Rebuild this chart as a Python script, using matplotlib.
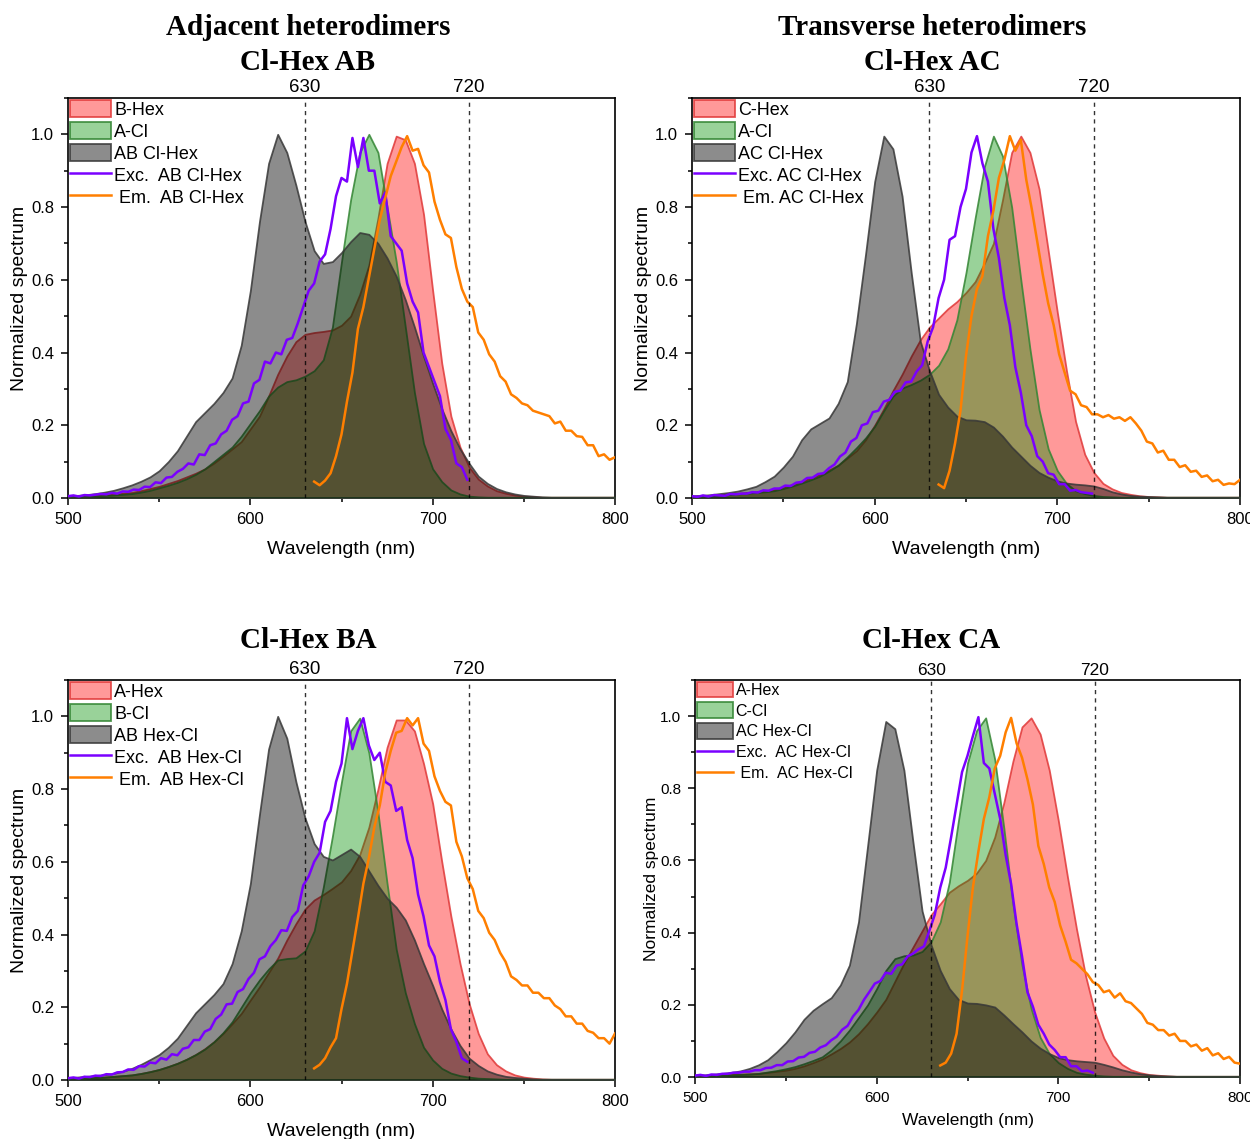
import numpy as np
import matplotlib

matplotlib.use("Agg")
import matplotlib.pyplot as plt
from matplotlib.ticker import MultipleLocator

plt.rcParams["font.family"] = ["Liberation Sans", "DejaVu Sans"]

# sample grids (nm)
WL_FILL = np.arange(500, 801, 5)   # 61 points, smooth absorption-type spectra
WL_EXC = np.arange(500, 720, 3)    # 74 points, excitation scans
WL_EM = np.arange(635, 801, 3)     # 56 points, emission scans
MARKERS_NM = [630, 720]

# ---- Cl-Hex AB ------------------------------------------------------------
ab_clhex_red = [
    0.004, 0.005, 0.006, 0.007, 0.009, 0.011, 0.013, 0.015, 0.020, 0.026,
    0.032, 0.040, 0.048, 0.058, 0.068, 0.080, 0.096, 0.115, 0.135, 0.155,
    0.190, 0.225, 0.280, 0.340, 0.390, 0.430, 0.450, 0.455, 0.458, 0.462,
    0.475, 0.500, 0.560, 0.640, 0.770, 0.920, 0.995, 0.985, 0.920, 0.780,
    0.570, 0.370, 0.225, 0.140, 0.085, 0.052, 0.033, 0.020, 0.013, 0.008,
    0.005, 0.004, 0.002, 0.002, 0.002, 0.002, 0.002, 0.002, 0.002, 0.002,
    0.002,
]
ab_clhex_green = [
    0.003, 0.004, 0.005, 0.006, 0.007, 0.008, 0.010, 0.012, 0.016, 0.021,
    0.028, 0.035, 0.043, 0.053, 0.065, 0.080, 0.100, 0.120, 0.140, 0.170,
    0.205, 0.240, 0.280, 0.305, 0.320, 0.325, 0.335, 0.350, 0.380, 0.470,
    0.650, 0.820, 0.950, 1.000, 0.950, 0.800, 0.650, 0.470, 0.290, 0.150,
    0.080, 0.045, 0.022, 0.011, 0.005, 0.003, 0.002, 0.002, 0.002, 0.002,
    0.002, 0.002, 0.002, 0.002, 0.002, 0.002, 0.002, 0.002, 0.002, 0.002,
    0.002,
]
ab_clhex_gray = [
    0.005, 0.007, 0.009, 0.012, 0.016, 0.021, 0.028, 0.036, 0.046, 0.058,
    0.075, 0.100, 0.130, 0.170, 0.210, 0.235, 0.260, 0.290, 0.330, 0.420,
    0.570, 0.760, 0.920, 1.000, 0.950, 0.860, 0.760, 0.680, 0.645, 0.650,
    0.675, 0.705, 0.730, 0.725, 0.700, 0.660, 0.610, 0.545, 0.470, 0.390,
    0.315, 0.245, 0.185, 0.135, 0.095, 0.060, 0.040, 0.026, 0.017, 0.011,
    0.007, 0.005, 0.003, 0.002, 0.002, 0.002, 0.002, 0.002, 0.002, 0.002,
    0.002,
]
ab_clhex_exc = [
    0.005, 0.007, 0.004, 0.008, 0.007, 0.009, 0.011, 0.010, 0.014, 0.012,
    0.018, 0.017, 0.023, 0.022, 0.031, 0.030, 0.043, 0.041, 0.056, 0.058,
    0.072, 0.080, 0.095, 0.092, 0.120, 0.118, 0.145, 0.150, 0.175, 0.185,
    0.215, 0.225, 0.260, 0.265, 0.315, 0.325, 0.375, 0.370, 0.400, 0.395,
    0.435, 0.440, 0.480, 0.525, 0.570, 0.590, 0.650, 0.670, 0.740, 0.830,
    0.880, 0.870, 0.990, 0.910, 0.990, 0.900, 0.900, 0.810, 0.840, 0.720,
    0.700, 0.680, 0.590, 0.540, 0.510, 0.400, 0.360, 0.320, 0.280, 0.190,
    0.160, 0.095, 0.085, 0.050,
]
ab_clhex_em = [
    0.045, 0.035, 0.048, 0.068, 0.115, 0.175, 0.265, 0.345, 0.465, 0.525,
    0.605, 0.685, 0.765, 0.825, 0.885, 0.925, 0.965, 0.995, 0.955, 0.960,
    0.915, 0.895, 0.815, 0.765, 0.725, 0.715, 0.635, 0.575, 0.540, 0.525,
    0.455, 0.435, 0.395, 0.375, 0.335, 0.320, 0.285, 0.275, 0.260, 0.255,
    0.240, 0.235, 0.230, 0.225, 0.205, 0.210, 0.185, 0.185, 0.170, 0.168,
    0.145, 0.145, 0.115, 0.120, 0.105, 0.112,
]

# ---- Cl-Hex AC ------------------------------------------------------------
ac_clhex_red = [
    0.005, 0.006, 0.007, 0.009, 0.011, 0.013, 0.015, 0.017, 0.020, 0.023,
    0.030, 0.037, 0.045, 0.055, 0.065, 0.077, 0.090, 0.110, 0.130, 0.160,
    0.200, 0.245, 0.295, 0.340, 0.390, 0.435, 0.470, 0.495, 0.520, 0.540,
    0.565, 0.595, 0.645, 0.700, 0.820, 0.950, 0.995, 0.950, 0.850, 0.680,
    0.510, 0.350, 0.210, 0.120, 0.070, 0.040, 0.025, 0.015, 0.010, 0.006,
    0.004, 0.003, 0.002, 0.002, 0.002, 0.002, 0.002, 0.002, 0.002, 0.002,
    0.002,
]
ac_clhex_green = [
    0.004, 0.005, 0.006, 0.007, 0.009, 0.011, 0.013, 0.015, 0.017, 0.020,
    0.026, 0.033, 0.041, 0.050, 0.060, 0.074, 0.090, 0.113, 0.138, 0.165,
    0.197, 0.240, 0.280, 0.302, 0.312, 0.324, 0.340, 0.365, 0.410, 0.490,
    0.620, 0.770, 0.910, 0.995, 0.940, 0.800, 0.600, 0.410, 0.243, 0.135,
    0.075, 0.040, 0.020, 0.012, 0.007, 0.004, 0.003, 0.002, 0.002, 0.002,
    0.002, 0.002, 0.002, 0.002, 0.002, 0.002, 0.002, 0.002, 0.002, 0.002,
    0.002,
]
ac_clhex_gray = [
    0.006, 0.007, 0.009, 0.012, 0.015, 0.019, 0.025, 0.032, 0.045, 0.060,
    0.085, 0.115, 0.160, 0.190, 0.205, 0.220, 0.260, 0.320, 0.480, 0.670,
    0.870, 0.995, 0.960, 0.830, 0.620, 0.430, 0.350, 0.285, 0.250, 0.225,
    0.215, 0.214, 0.210, 0.195, 0.170, 0.140, 0.115, 0.090, 0.070, 0.057,
    0.047, 0.041, 0.038, 0.036, 0.033, 0.026, 0.017, 0.011, 0.007, 0.005,
    0.004, 0.003, 0.002, 0.002, 0.002, 0.002, 0.002, 0.002, 0.002, 0.002,
    0.002,
]
ac_clhex_exc = [
    0.005, 0.003, 0.007, 0.004, 0.008, 0.007, 0.006, 0.011, 0.010, 0.012,
    0.012, 0.016, 0.015, 0.021, 0.020, 0.026, 0.026, 0.034, 0.033, 0.042,
    0.044, 0.055, 0.056, 0.066, 0.068, 0.082, 0.092, 0.114, 0.125, 0.155,
    0.165, 0.200, 0.205, 0.236, 0.240, 0.265, 0.270, 0.292, 0.295, 0.318,
    0.320, 0.348, 0.365, 0.430, 0.470, 0.550, 0.600, 0.710, 0.720, 0.800,
    0.850, 0.950, 0.995, 0.920, 0.870, 0.740, 0.660, 0.550, 0.475, 0.360,
    0.290, 0.200, 0.170, 0.115, 0.100, 0.068, 0.064, 0.038, 0.038, 0.020,
    0.022, 0.016, 0.014, 0.012,
]
ac_clhex_em = [
    0.037, 0.027, 0.075, 0.150, 0.240, 0.390, 0.500, 0.575, 0.610, 0.720,
    0.790, 0.880, 0.930, 0.995, 0.955, 0.985, 0.875, 0.795, 0.705, 0.615,
    0.535, 0.475, 0.395, 0.345, 0.295, 0.285, 0.255, 0.250, 0.230, 0.230,
    0.222, 0.228, 0.218, 0.222, 0.212, 0.222, 0.205, 0.185, 0.155, 0.150,
    0.125, 0.130, 0.105, 0.105, 0.085, 0.090, 0.072, 0.075, 0.058, 0.062,
    0.046, 0.050, 0.036, 0.040, 0.038, 0.050,
]

# ---- Cl-Hex BA ------------------------------------------------------------
ba_hexcl_red = [
    0.004, 0.005, 0.006, 0.007, 0.008, 0.010, 0.012, 0.014, 0.018, 0.023,
    0.029, 0.037, 0.046, 0.057, 0.070, 0.086, 0.105, 0.128, 0.155, 0.183,
    0.220, 0.256, 0.295, 0.335, 0.385, 0.430, 0.470, 0.495, 0.510, 0.527,
    0.545, 0.576, 0.620, 0.695, 0.800, 0.915, 0.990, 0.990, 0.960, 0.870,
    0.760, 0.600, 0.450, 0.320, 0.210, 0.128, 0.072, 0.042, 0.025, 0.014,
    0.008, 0.005, 0.003, 0.002, 0.002, 0.002, 0.002, 0.002, 0.002, 0.002,
    0.002,
]
ba_hexcl_green = [
    0.004, 0.005, 0.006, 0.007, 0.008, 0.010, 0.012, 0.014, 0.018, 0.023,
    0.029, 0.037, 0.046, 0.057, 0.070, 0.085, 0.105, 0.130, 0.160, 0.200,
    0.240, 0.275, 0.305, 0.330, 0.334, 0.336, 0.355, 0.410, 0.530, 0.670,
    0.820, 0.960, 0.995, 0.900, 0.735, 0.540, 0.360, 0.240, 0.155, 0.090,
    0.055, 0.032, 0.019, 0.012, 0.008, 0.005, 0.004, 0.003, 0.002, 0.002,
    0.002, 0.002, 0.002, 0.002, 0.002, 0.002, 0.002, 0.002, 0.002, 0.002,
    0.002,
]
ba_hexcl_gray = [
    0.006, 0.008, 0.010, 0.012, 0.015, 0.018, 0.024, 0.032, 0.043, 0.056,
    0.070, 0.090, 0.115, 0.150, 0.185, 0.210, 0.235, 0.265, 0.320, 0.410,
    0.540, 0.730, 0.910, 1.000, 0.940, 0.820, 0.720, 0.650, 0.615, 0.605,
    0.620, 0.635, 0.615, 0.575, 0.535, 0.500, 0.475, 0.440, 0.385, 0.320,
    0.260, 0.195, 0.140, 0.095, 0.060, 0.040, 0.025, 0.016, 0.010, 0.007,
    0.005, 0.003, 0.002, 0.002, 0.002, 0.002, 0.002, 0.002, 0.002, 0.002,
    0.002,
]
ba_hexcl_exc = [
    0.005, 0.007, 0.004, 0.009, 0.008, 0.012, 0.011, 0.016, 0.015, 0.021,
    0.022, 0.029, 0.028, 0.038, 0.037, 0.048, 0.046, 0.060, 0.056, 0.071,
    0.068, 0.086, 0.090, 0.110, 0.110, 0.133, 0.140, 0.168, 0.180, 0.208,
    0.210, 0.242, 0.250, 0.278, 0.295, 0.332, 0.340, 0.368, 0.385, 0.412,
    0.410, 0.448, 0.465, 0.535, 0.560, 0.600, 0.625, 0.710, 0.740, 0.820,
    0.870, 0.995, 0.910, 0.960, 0.995, 0.920, 0.880, 0.900, 0.820, 0.810,
    0.740, 0.750, 0.660, 0.610, 0.510, 0.450, 0.370, 0.340, 0.270, 0.220,
    0.140, 0.105, 0.060, 0.050,
]
ba_hexcl_em = [
    0.032, 0.042, 0.060, 0.090, 0.115, 0.195, 0.265, 0.355, 0.445, 0.540,
    0.610, 0.695, 0.755, 0.845, 0.905, 0.955, 0.960, 0.995, 0.975, 0.995,
    0.925, 0.905, 0.835, 0.795, 0.765, 0.755, 0.655, 0.615, 0.555, 0.525,
    0.465, 0.445, 0.405, 0.385, 0.350, 0.325, 0.285, 0.275, 0.260, 0.260,
    0.240, 0.240, 0.225, 0.225, 0.205, 0.195, 0.175, 0.175, 0.155, 0.155,
    0.135, 0.130, 0.115, 0.115, 0.100, 0.128,
]

# ---- Cl-Hex CA ------------------------------------------------------------
ca_hexcl_red = [
    0.003, 0.004, 0.005, 0.006, 0.007, 0.008, 0.009, 0.010, 0.013, 0.016,
    0.019, 0.024, 0.031, 0.040, 0.050, 0.064, 0.079, 0.097, 0.120, 0.148,
    0.180, 0.215, 0.265, 0.315, 0.360, 0.405, 0.450, 0.480, 0.512, 0.530,
    0.545, 0.565, 0.600, 0.665, 0.760, 0.875, 0.970, 0.995, 0.950, 0.850,
    0.710, 0.555, 0.410, 0.280, 0.180, 0.108, 0.060, 0.035, 0.020, 0.012,
    0.007, 0.005, 0.003, 0.002, 0.002, 0.002, 0.002, 0.002, 0.002, 0.002,
    0.002,
]
ca_hexcl_green = [
    0.003, 0.003, 0.004, 0.005, 0.006, 0.007, 0.008, 0.010, 0.014, 0.018,
    0.023, 0.029, 0.037, 0.046, 0.056, 0.075, 0.100, 0.130, 0.165, 0.200,
    0.245, 0.295, 0.328, 0.336, 0.338, 0.348, 0.375, 0.430, 0.540, 0.710,
    0.870, 0.960, 0.995, 0.880, 0.690, 0.480, 0.310, 0.190, 0.110, 0.065,
    0.040, 0.024, 0.013, 0.008, 0.005, 0.003, 0.002, 0.002, 0.002, 0.002,
    0.002, 0.002, 0.002, 0.002, 0.002, 0.002, 0.002, 0.002, 0.002, 0.002,
    0.002,
]
ca_hexcl_gray = [
    0.005, 0.006, 0.008, 0.010, 0.013, 0.017, 0.024, 0.034, 0.048, 0.070,
    0.095, 0.125, 0.160, 0.185, 0.203, 0.220, 0.255, 0.310, 0.430, 0.640,
    0.850, 0.985, 0.965, 0.850, 0.650, 0.460, 0.365, 0.295, 0.245, 0.215,
    0.205, 0.204, 0.200, 0.194, 0.172, 0.148, 0.125, 0.100, 0.080, 0.065,
    0.054, 0.048, 0.045, 0.043, 0.041, 0.035, 0.028, 0.020, 0.014, 0.009,
    0.006, 0.004, 0.003, 0.002, 0.002, 0.002, 0.002, 0.002, 0.002, 0.002,
    0.002,
]
ca_hexcl_exc = [
    0.004, 0.006, 0.003, 0.007, 0.006, 0.009, 0.009, 0.012, 0.012, 0.015,
    0.015, 0.019, 0.019, 0.025, 0.026, 0.033, 0.033, 0.043, 0.044, 0.054,
    0.056, 0.067, 0.070, 0.082, 0.088, 0.102, 0.112, 0.131, 0.142, 0.168,
    0.186, 0.214, 0.236, 0.259, 0.266, 0.289, 0.286, 0.309, 0.312, 0.334,
    0.342, 0.354, 0.362, 0.405, 0.450, 0.525, 0.580, 0.665, 0.755, 0.845,
    0.890, 0.945, 0.997, 0.870, 0.855, 0.785, 0.715, 0.615, 0.535, 0.425,
    0.335, 0.235, 0.195, 0.145, 0.120, 0.090, 0.075, 0.055, 0.055, 0.030,
    0.030, 0.016, 0.018, 0.012,
]
ca_hexcl_em = [
    0.032, 0.040, 0.065, 0.120, 0.240, 0.390, 0.526, 0.625, 0.715, 0.775,
    0.855, 0.890, 0.955, 0.995, 0.925, 0.885, 0.825, 0.755, 0.640, 0.590,
    0.525, 0.485, 0.420, 0.375, 0.325, 0.315, 0.300, 0.285, 0.263, 0.255,
    0.235, 0.240, 0.220, 0.232, 0.210, 0.205, 0.190, 0.175, 0.150, 0.145,
    0.130, 0.130, 0.115, 0.120, 0.100, 0.100, 0.085, 0.090, 0.073, 0.080,
    0.060, 0.066, 0.050, 0.056, 0.040, 0.037,
]

RED_FACE = (1.0, 0.0, 0.0, 0.40)
RED_EDGE = (0.88, 0.22, 0.22, 0.85)
GREEN_FACE = (0.0, 0.56, 0.0, 0.40)
GREEN_EDGE = (0.20, 0.52, 0.20, 0.85)
GRAY_FACE = (0.0, 0.0, 0.0, 0.45)
GRAY_EDGE = (0.22, 0.22, 0.22, 0.85)
EXC_COLOR = "#7a00ff"
EM_COLOR = "#ff7f00"


def draw_panel(ax, red, green, gray, exc, em, labels, small=False):
    """Three filled spectra, excitation/emission traces and the 630/720 markers."""
    ax.fill_between(WL_FILL, red, facecolor=RED_FACE, edgecolor=RED_EDGE,
                    linewidth=1.3, label=labels[0], zorder=2)
    ax.fill_between(WL_FILL, green, facecolor=GREEN_FACE, edgecolor=GREEN_EDGE,
                    linewidth=1.3, label=labels[1], zorder=3)
    ax.fill_between(WL_FILL, gray, facecolor=GRAY_FACE, edgecolor=GRAY_EDGE,
                    linewidth=1.3, label=labels[2], zorder=4)
    ax.plot(WL_EXC, exc, color=EXC_COLOR, lw=1.8, label=labels[3], zorder=6)
    ax.plot(WL_EM, em, color=EM_COLOR, lw=1.8, label=labels[4], zorder=6)

    for nm in MARKERS_NM:
        ax.axvline(nm, color="k", lw=1.0, ls=(0, (3, 3)), alpha=0.8, zorder=7)
        ax.text(nm, 1.105, str(nm), ha="center", va="bottom",
                fontsize=12.5 if small else 13.5)

    tick_fs = 11 if small else 12
    ax.set_xlim(500, 800)
    ax.set_ylim(0, 1.1)
    ax.xaxis.set_major_locator(MultipleLocator(100))
    ax.xaxis.set_minor_locator(MultipleLocator(50))
    ax.yaxis.set_major_locator(MultipleLocator(0.2))
    ax.yaxis.set_minor_locator(MultipleLocator(0.1))
    ax.yaxis.set_major_formatter(lambda v, _: f"{v:.1f}")
    ax.tick_params(which="both", direction="out", labelsize=tick_fs, width=1.1)
    ax.tick_params(which="major", length=5, pad=5)
    ax.tick_params(which="minor", length=3)
    for spine in ax.spines.values():
        spine.set_linewidth(1.2)

    ax.set_xlabel("Wavelength (nm)", fontsize=12.5 if small else 14,
                  labelpad=6 if small else 10)
    ax.set_ylabel("Normalized spectrum", fontsize=12.5 if small else 14,
                  labelpad=1 if small else 2)

    fs = 11.5 if small else 13
    ax.legend(loc="upper left", bbox_to_anchor=(0.0, 1.0), frameon=False,
              fontsize=fs, handlelength=2.3, handleheight=1.1,
              labelspacing=0.3 if small else 0.18, handletextpad=0.15,
              borderpad=0.05, borderaxespad=0.05)


fig = plt.figure(figsize=(12.5, 11.39), dpi=100)

ax_ab = fig.add_axes([0.0544, 0.5628, 0.4376, 0.3512])
ax_ac = fig.add_axes([0.5536, 0.5628, 0.4384, 0.3512])
ax_ba = fig.add_axes([0.0544, 0.0518, 0.4376, 0.3512])
ax_ca = fig.add_axes([0.5560, 0.0544, 0.4360, 0.3486])

draw_panel(ax_ab, ab_clhex_red, ab_clhex_green, ab_clhex_gray, ab_clhex_exc, ab_clhex_em,
           ["B-Hex", "A-Cl", "AB Cl-Hex", "Exc.  AB Cl-Hex", " Em.  AB Cl-Hex"])
draw_panel(ax_ac, ac_clhex_red, ac_clhex_green, ac_clhex_gray, ac_clhex_exc, ac_clhex_em,
           ["C-Hex", "A-Cl", "AC Cl-Hex", "Exc. AC Cl-Hex", " Em. AC Cl-Hex"])
draw_panel(ax_ba, ba_hexcl_red, ba_hexcl_green, ba_hexcl_gray, ba_hexcl_exc, ba_hexcl_em,
           ["A-Hex", "B-Cl", "AB Hex-Cl", "Exc.  AB Hex-Cl", " Em.  AB Hex-Cl"])
draw_panel(ax_ca, ca_hexcl_red, ca_hexcl_green, ca_hexcl_gray, ca_hexcl_exc, ca_hexcl_em,
           ["A-Hex", "C-Cl", "AC Hex-Cl", "Exc.  AC Hex-Cl", " Em.  AC Hex-Cl"], small=True)

title_kw = dict(ha="center", va="center", fontsize=21, fontweight="bold",
                family=["Liberation Serif", "DejaVu Serif"], linespacing=1.35)
fig.text(308 / 1250, 1 - 45 / 1139, "Adjacent heterodimers\nCl-Hex AB", **title_kw)
fig.text(932 / 1250, 1 - 45 / 1139, "Transverse heterodimers\nCl-Hex AC", **title_kw)
fig.text(308 / 1250, 1 - 641 / 1139, "Cl-Hex BA", **title_kw)
fig.text(931 / 1250, 1 - 641 / 1139, "Cl-Hex CA", **title_kw)

fig.savefig("out.png", dpi=100)
